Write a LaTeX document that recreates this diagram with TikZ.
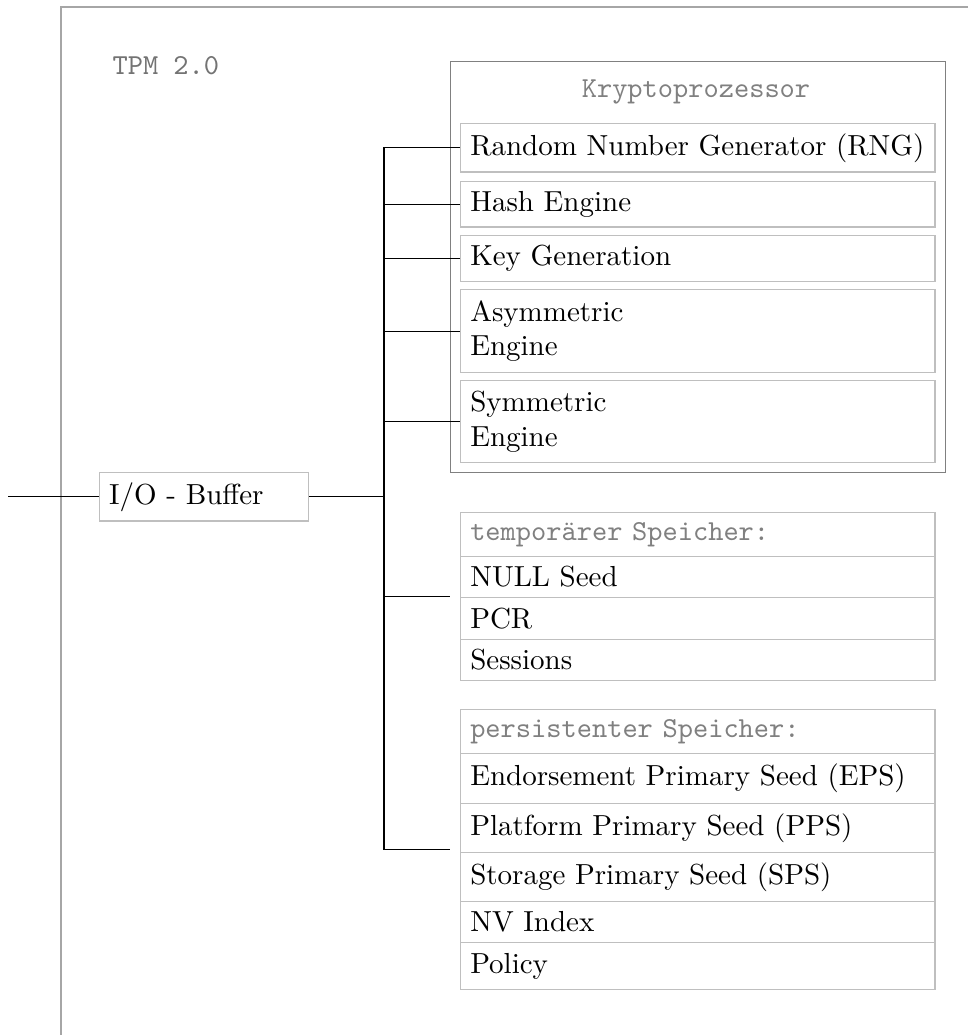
\documentclass[tikz,border=0pt]{standalone}
\usetikzlibrary{fit}

\begin{document}
\begin{tikzpicture}[x=0.3448pt, y=-0.3448pt,
  frame/.style={draw=black!35, line width=0.4pt},
  rowh/.style={minimum height=#1*0.3448pt},
  cell/.style={draw=black!25, anchor=north west, minimum width=473*0.3448pt,
    text width=156.9pt, align=left, inner sep=3.333pt},
  hdr/.style={cell, text=black!50},
  iobox/.style={draw=black!25, anchor=north west, minimum width=209*0.3448pt,
    text width=65.4pt, align=left, inner sep=3.333pt},
  group/.style={inner sep=3.333pt},
  krypto/.style={draw=black!50, inner sep=3.333pt},
  caption/.style={text=black!55, font=\ttfamily, inner sep=0pt},
  link/.style={draw=black, line width=0.4pt},
]
\useasboundingbox (0,0) rectangle (968,1035);
\clip (0,0) rectangle (968,1035);

% outer TPM frame (runs off the page to the right and bottom)
\draw[frame] (61,7) rectangle (1200,1200);
\node[caption, anchor=base west] (tpm) at (112,74) {TPM 2.0};

% crypto processor
\node[cell, rowh=48] (rng)    at (460,123) {Random Number Generator (RNG)};
\node[cell, rowh=45] (hash)   at (460,181) {Hash Engine};
\node[cell, rowh=46] (keygen) at (460,235) {Key Generation};
\node[cell, rowh=83] (asym)   at (460,289) {Asymmetric\\Engine};
\node[cell, rowh=82] (sym)    at (460,380) {Symmetric\\Engine};
\coordinate (ktop) at (696,71);
\node[krypto, fit=(ktop)(rng)(sym)] (kp) {};
\node[caption, anchor=base, text=black!50] (kt) at (696,97) {Kryptoprozessor};

% I/O buffer
\node[iobox, rowh=48] (io) at (99,472) {I/O - Buffer};

% volatile memory
\node[hdr, rowh=44]  (th)    at (460,512) {\texttt{temporärer} \texttt{Speicher:}};
\node[cell, rowh=41] (tnull) at (460,556) {NULL Seed};
\node[cell, rowh=42] (tpcr)  at (460,597) {PCR};
\node[cell, rowh=41] (tses)  at (460,639) {Sessions};
\node[group, fit=(th)(tses)] (temp) {};

% persistent memory
\node[hdr, rowh=44]  (ph)  at (460,709) {\texttt{persistenter} \texttt{Speicher:}};
\node[cell, rowh=50] (eps) at (460,753) {Endorsement Primary Seed (EPS)};
\node[cell, rowh=49] (pps) at (460,803) {Platform Primary Seed (PPS)};
\node[cell, rowh=49] (sps) at (460,852) {Storage Primary Seed (SPS)};
\node[cell, rowh=41] (nv)  at (460,901) {NV Index};
\node[cell, rowh=47] (pol) at (460,942) {Policy};
\node[group, fit=(ph)(pol)] (pers) {};

% connections
\coordinate (ext) at (8,0 |- io.west);
\coordinate (bus) at (384,0 |- io.east);
\draw[link] (ext) -- (io.west);
\foreach \t in {rng,hash,keygen,asym,sym,temp,pers}
  \draw[link] (io.east) -- (bus) |- (\t.west);
\end{tikzpicture}
\end{document}
